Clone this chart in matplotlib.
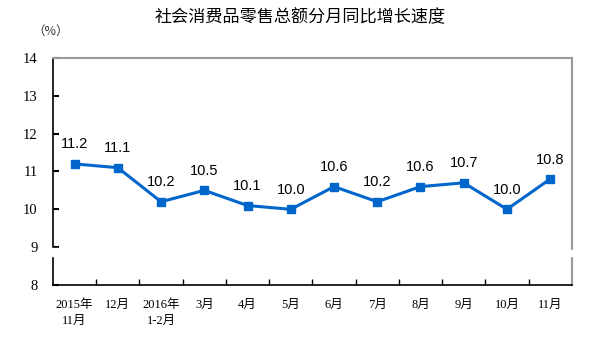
import matplotlib
matplotlib.use("Agg")
import matplotlib.pyplot as plt
from matplotlib.patches import Rectangle

months = ["2015年\n11月", "12月", "2016年\n1-2月", "3月", "4月", "5月",
          "6月", "7月", "8月", "9月", "10月", "11月"]
growth = [11.2, 11.1, 10.2, 10.5, 10.1, 10.0, 10.6, 10.2, 10.6, 10.7, 10.0, 10.8]
yticks = [8, 9, 10, 11, 12, 13, 14]

blue = "#0066cc"
cjk = ["Liberation Serif", "Noto Sans CJK SC"]

fig = plt.figure(figsize=(6, 3.47), dpi=100)
ax = fig.add_axes([0.0883, 0.1787, 0.8647, 0.6543])

x = list(range(len(growth)))
ax.plot(x, growth, color=blue, lw=2.2, marker="s", ms=5.5, zorder=4)
for xi, v in zip(x, growth):
    ax.annotate(f"{v:.1f}", (xi, v), xytext=(0, 14), textcoords="offset points",
                ha="center", va="center", fontsize=10.5, family="Liberation Sans")

ax.set_xlim(-0.5, len(growth) - 0.5)
ax.set_ylim(8, 14)
ax.set_yticks(yticks)
ax.set_yticklabels([str(t) for t in yticks], family="Liberation Serif", fontsize=10.5)
ax.set_xticks([i - 0.5 for i in range(1, len(growth))], minor=True)
ax.set_xticks(x)
ax.set_xticklabels(months, family=cjk, fontsize=9, linespacing=1.45)
ax.tick_params(axis="x", which="major", length=0, pad=10)
ax.tick_params(axis="x", which="minor", direction="in", length=4, width=1)
ax.tick_params(axis="y", direction="in", length=4, width=1.5, pad=11)

for s in ["top", "right"]:
    ax.spines[s].set_color("#999999")
    ax.spines[s].set_linewidth(1.5)
for s in ["left", "bottom"]:
    ax.spines[s].set_color("black")
    ax.spines[s].set_linewidth(1.2)

# axis break between 8 and 9
ax.add_patch(Rectangle((-0.02, 8.77), 0.04, 0.2, transform=ax.get_yaxis_transform(),
                       color="white", zorder=5, clip_on=False))
ax.add_patch(Rectangle((0.98, 8.77), 0.04, 0.16, transform=ax.get_yaxis_transform(),
                       color="white", zorder=5, clip_on=False))

fig.text(0.5, 0.951, "社会消费品零售总额分月同比增长速度", ha="center", va="center",
         fontsize=12.3, family="Noto Sans CJK SC")
fig.text(0.085, 0.91, "（%）", ha="center", va="center", fontsize=9,
         family=["Noto Sans CJK SC"], color="#333333")

fig.savefig("out.png", dpi=100)
